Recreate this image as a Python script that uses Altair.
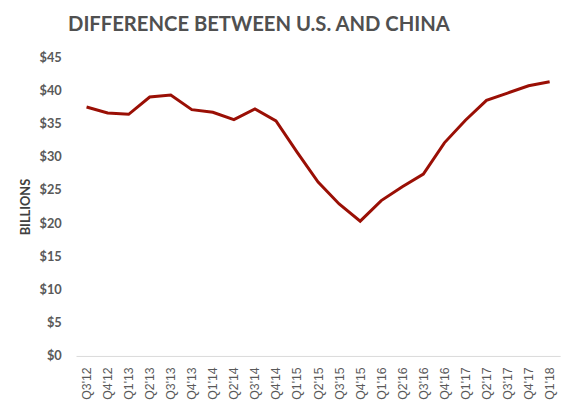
import pandas as pd
import altair as alt

quarters = [
    "Q3'12", "Q4'12", "Q1'13", "Q2'13", "Q3'13", "Q4'13", "Q1'14", "Q2'14",
    "Q3'14", "Q4'14", "Q1'15", "Q2'15", "Q3'15", "Q4'15", "Q1'16", "Q2'16",
    "Q3'16", "Q4'16", "Q1'17", "Q2'17", "Q3'17", "Q4'17", "Q1'18",
]
difference = [
    37.5, 36.6, 36.4, 39.0, 39.3, 37.1, 36.7, 35.6,
    37.2, 35.4, 30.7, 26.2, 22.9, 20.3, 23.4, 25.5,
    27.4, 32.1, 35.5, 38.5, 39.6, 40.7, 41.3,
]

df = pd.DataFrame({"quarter": quarters, "billions": difference})

chart = (
    alt.Chart(df)
    .mark_line(color="#9A0F05", strokeWidth=3)
    .encode(
        alt.X(
            "quarter:O",
            sort=quarters,
            title=None,
            axis=alt.Axis(
                labelAngle=-90,
                labelFont="Liberation Sans",
                labelFontSize=12.5,
                labelColor="#595959",
                labelPadding=11,
                ticks=False,
                domainColor="#d9d9d9",
                domainWidth=1,
            ),
        ),
        alt.Y(
            "billions:Q",
            title="BILLIONS",
            scale=alt.Scale(domain=[0, 45]),
            axis=alt.Axis(
                values=list(range(0, 50, 5)),
                format="$,.0f",
                grid=False,
                domain=False,
                ticks=False,
                labelFont="Lato",
                labelFontSize=13,
                labelFontWeight="bold",
                labelColor="#595959",
                labelPadding=15,
                titleFont="Lato",
                titleFontSize=13,
                titleFontWeight="bold",
                titleColor="#404040",
                titlePadding=7,
            ),
        ),
    )
    .properties(
        width=491,
        height=303,
        autosize=alt.AutoSizeParams(type="none"),
        padding={"left": 69, "top": 47, "right": 12, "bottom": 57},
        title=alt.TitleParams(
            "DIFFERENCE BETWEEN U.S. AND CHINA",
            font="Lato",
            fontSize=20.5,
            fontWeight="bold",
            color="#505050",
            anchor="middle",
            dx=-60,
            offset=16,
        ),
    )
    .configure_view(stroke=None)
)

chart.save("out.html", embed_options={"renderer": "svg", "actions": False})
